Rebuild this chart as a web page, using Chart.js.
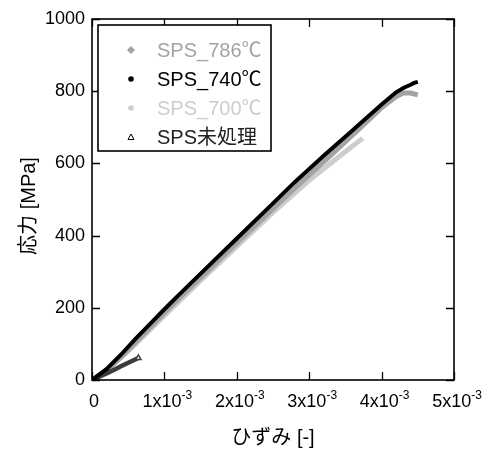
<!DOCTYPE html>
<html>
<head>
<meta charset="utf-8">
<script src="https://cdn.jsdelivr.net/npm/chart.js@4.4.0/dist/chart.umd.min.js"></script>
<style>
  html, body { margin: 0; padding: 0; background: #fff; }
</style>
</head>
<body>
<canvas id="chart" width="484" height="449"></canvas>
<script>
// stress-strain curves, strain [-] / stress [MPa]
var strain786 = [0, 0.0002, 0.0004, 0.0006, 0.0008, 0.0010, 0.0012, 0.0018, 0.0024, 0.0028, 0.0032, 0.0035, 0.0038, 0.0040, 0.0042, 0.0043, 0.0044, 0.0045];
var stress786 = [0, 27, 64, 104, 145, 186, 226, 341, 455, 531, 604, 660, 716, 754, 785, 795, 795, 790];

var strain740 = [0, 0.0002, 0.0004, 0.0006, 0.0008, 0.0010, 0.0012, 0.0016, 0.0020, 0.0024, 0.0028, 0.0032, 0.0036, 0.0040, 0.0042, 0.0043, 0.0044, 0.00445, 0.0045];
var stress740 = [0, 30, 70, 114, 155, 196, 236, 314, 392, 470, 548, 621, 692, 763, 797, 809, 818, 823, 826];

var strain700 = [0, 0.0002, 0.0005, 0.0010, 0.0015, 0.0020, 0.0025, 0.0030, 0.0034, 0.00374];
var stress700 = [0, 26, 80, 178, 276, 370, 464, 553, 617, 670];

var strainRaw = [0, 0.0001, 0.0002, 0.0003, 0.0004, 0.0005, 0.00064];
var stressRaw = [0, 9, 18, 28, 38, 48, 61];

var seriesNames = ['SPS_786℃', 'SPS_740℃', 'SPS_700℃', 'SPS未処理'];
var xTickMantissa = [0, 1, 2, 3, 4, 5];
var xTickExponent = '-3';
var yMax = 1000;
var yStep = 200;

var FONT = '"Liberation Sans", Arial, "Noto Sans CJK JP", sans-serif';

function toPoints(xs, ys) {
    return xs.map(function (x, i) { return { x: x, y: ys[i] }; });
}

var colors = ['#a3a3a3', '#000000', '#cdcdcd', '#3c3c3c'];
var legendText = ['#a3a3a3', '#000000', '#cdcdcd', '#222222'];

// frame, inward ticks, x labels with exponent, titles and legend
var decor = {
    id: 'decor',
    afterDraw: function (chart) {
        var ctx = chart.ctx;
        var a = chart.chartArea;
        var xs = chart.scales.x;
        var ys = chart.scales.y;
        var tl = 8;
        ctx.save();
        ctx.strokeStyle = '#000';
        ctx.lineWidth = 1.6;
        ctx.strokeRect(a.left, a.top, a.right - a.left, a.bottom - a.top);

        ctx.lineWidth = 1.3;
        ctx.beginPath();
        xTickMantissa.forEach(function (m) {
            var px = Math.round(xs.getPixelForValue(m / 1000)) + 0.5;
            ctx.moveTo(px, a.bottom); ctx.lineTo(px, a.bottom - tl);
            ctx.moveTo(px, a.top); ctx.lineTo(px, a.top + tl);
        });
        for (var v = 0; v <= yMax; v += yStep) {
            var py = Math.round(ys.getPixelForValue(v)) + 0.5;
            ctx.moveTo(a.left, py); ctx.lineTo(a.left + tl, py);
            ctx.moveTo(a.right, py); ctx.lineTo(a.right - tl, py);
        }
        ctx.stroke();

        // x tick labels like 1x10^-3
        ctx.fillStyle = '#000';
        ctx.textBaseline = 'alphabetic';
        xTickMantissa.forEach(function (m) {
            var px = xs.getPixelForValue(m / 1000);
            var base = a.bottom + 27;
            if (m === 0) {
                ctx.font = '18px ' + FONT;
                ctx.textAlign = 'center';
                ctx.fillText('0', px + 2, base);
                return;
            }
            var main = m + 'x10';
            ctx.font = '18px ' + FONT;
            var w1 = ctx.measureText(main).width;
            ctx.font = '12px ' + FONT;
            var w2 = ctx.measureText(xTickExponent).width;
            var x0 = px + 3 - (w1 + w2) / 2;
            ctx.textAlign = 'left';
            ctx.font = '18px ' + FONT;
            ctx.fillText(main, x0, base);
            ctx.font = '12px ' + FONT;
            ctx.fillText(xTickExponent, x0 + w1, base - 8);
        });

        // axis titles
        ctx.font = '20px ' + FONT;
        ctx.textAlign = 'center';
        ctx.textBaseline = 'middle';
        ctx.fillText('ひずみ [-]', (a.left + a.right) / 2, 438);
        ctx.save();
        ctx.translate(29, 206);
        ctx.rotate(-Math.PI / 2);
        ctx.fillText('応力 [MPa]', 0, 0);
        ctx.restore();

        // legend box
        ctx.fillStyle = '#fff';
        ctx.fillRect(98, 25, 173, 126);
        ctx.lineWidth = 1.6;
        ctx.strokeRect(98, 25, 173, 126);
        var rows = [50, 79, 108, 137];
        seriesNames.forEach(function (name, i) {
            var my = rows[i];
            ctx.fillStyle = colors[i];
            ctx.strokeStyle = colors[i];
            if (i === 0) {
                ctx.beginPath();
                ctx.moveTo(131, my - 4); ctx.lineTo(135, my); ctx.lineTo(131, my + 4); ctx.lineTo(127, my);
                ctx.closePath(); ctx.fill();
            } else if (i === 1 || i === 2) {
                ctx.beginPath();
                ctx.arc(131, my, 2.8, 0, Math.PI * 2);
                ctx.fill();
            } else {
                ctx.lineWidth = 1;
                ctx.strokeStyle = '#000';
                ctx.beginPath();
                ctx.moveTo(131, my - 3); ctx.lineTo(134, my + 2.5); ctx.lineTo(128, my + 2.5);
                ctx.closePath(); ctx.stroke();
            }
            ctx.fillStyle = legendText[i];
            ctx.font = '20px ' + FONT;
            ctx.textAlign = 'left';
            ctx.textBaseline = 'middle';
            ctx.fillText(name, 157, my + 1);
        });
        ctx.restore();
    }
};

var data = {
    datasets: [{
        label: seriesNames[0],
        data: toPoints(strain786, stress786),
        borderColor: colors[0],
        borderWidth: 5,
        pointRadius: 0,
        order: 1
    }, {
        label: seriesNames[1],
        data: toPoints(strain740, stress740),
        borderColor: colors[1],
        borderWidth: 4,
        pointRadius: 0,
        order: 0
    }, {
        label: seriesNames[2],
        data: toPoints(strain700, stress700),
        borderColor: colors[2],
        borderWidth: 5,
        pointRadius: 0,
        order: 2
    }, {
        label: seriesNames[3],
        data: toPoints(strainRaw, stressRaw),
        borderColor: colors[3],
        borderWidth: 4.5,
        pointStyle: 'triangle',
        pointRadius: function (c) { return c.dataIndex === strainRaw.length - 1 ? 3 : 0; },
        pointBackgroundColor: '#fff',
        pointBorderColor: colors[3],
        pointBorderWidth: 1.5,
        order: 0
    }]
};

var chart = new Chart(document.getElementById('chart'), {
    type: 'scatter',
    data: data,
    options: {
        responsive: false,
        animation: false,
        showLine: true,
        layout: { padding: { top: 19, right: 30, left: 0, bottom: 0 } },
        plugins: {
            legend: { display: false },
            tooltip: { enabled: false }
        },
        scales: {
            x: {
                type: 'linear',
                min: 0,
                max: 0.005,
                ticks: { display: false, stepSize: 0.001 },
                grid: { display: false, drawTicks: false },
                border: { display: false },
                afterFit: function (s) { s.height = 69; }
            },
            y: {
                type: 'linear',
                min: 0,
                max: yMax,
                ticks: {
                    stepSize: yStep,
                    padding: 7,
                    color: '#000',
                    font: { family: FONT, size: 18 },
                    callback: function (v) { return String(v); }
                },
                grid: { display: false, drawTicks: false },
                border: { display: false },
                afterFit: function (s) { s.width = 92; }
            }
        }
    },
    plugins: [decor]
});
</script>
</body>
</html>
